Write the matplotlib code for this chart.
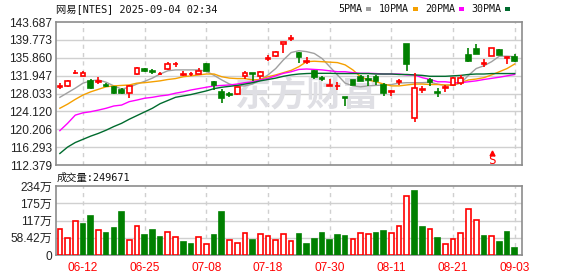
import matplotlib
matplotlib.use("Agg")
import matplotlib.pyplot as plt
import matplotlib.patches as mpatches
import numpy as np
import pandas as pd

RED = "#ff0000"
GREEN = "#008000"
GRID = "#d0d0d0"
FRAME = "#8c8c8c"

# --- data ------------------------------------------------------------------
holidays = ["2025-06-19", "2025-07-04", "2025-09-01"]
dates = pd.bdate_range("2025-06-09", "2025-09-03", freq="C", holidays=holidays)
tickDates = ["06-12", "06-25", "07-08", "07-18", "07-30", "08-11", "08-21", "09-03"]

opens = [129.5, 129.7, 132.5, 131.9, 130.8, 130.5, 130.0, 129.5, 128.9, 128.1,
         132.2, 133.5, 133.0, 132.2, 133.5, 134.45, 132.1, 132.2, 132.3, 134.5,
         130.6, 128.4, 127.9, 127.9, 131.9, 132.5, 131.9, 135.6, 136.2, 138.9,
         139.9, 136.8, 135.0, 133.0, 131.5, 129.7, 129.6, 127.3, 131.0, 131.6,
         131.2, 131.7, 129.9, 128.3, 130.5, 138.9, 122.6, 128.8, 130.9, 128.3,
         129.3, 129.9, 130.4, 136.5, 137.8, 134.6, 136.3, 137.6, 135.9, 136.0]
highs = [130.3, 130.9, 133.2, 133.0, 131.1, 131.6, 130.3, 129.6, 129.2, 129.8,
         133.8, 133.6, 133.5, 132.7, 134.9, 134.9, 132.9, 132.8, 133.6, 134.8,
         130.8, 129.0, 128.4, 129.5, 133.0, 132.6, 133.0, 136.5, 137.4, 139.4,
         140.8, 137.2, 136.0, 133.2, 131.9, 131.1, 130.5, 127.3, 131.0, 132.0,
         132.1, 132.0, 130.3, 128.9, 131.1, 138.9, 132.45, 129.7, 131.4, 129.2,
         129.9, 131.6, 132.1, 137.9, 138.9, 135.5, 138.1, 137.7, 136.1, 136.7]
lows = [129.1, 129.4, 132.2, 131.8, 129.1, 130.1, 129.4, 128.0, 128.0, 127.0,
        132.0, 132.7, 132.3, 132.1, 133.2, 133.9, 131.9, 131.8, 132.2, 132.9,
        128.9, 126.0, 127.3, 127.8, 131.1, 130.7, 131.3, 135.2, 136.1, 136.8,
        139.5, 134.8, 134.6, 131.1, 130.7, 129.7, 128.9, 125.4, 129.9, 130.7,
        129.7, 129.8, 127.5, 127.5, 129.8, 133.0, 121.9, 128.2, 129.7, 127.3,
        128.4, 129.7, 129.9, 134.9, 136.7, 133.8, 136.3, 136.4, 134.5, 135.0]
closes = [129.7, 130.8, 132.6, 132.5, 129.2, 130.7, 129.7, 128.2, 128.15, 129.7,
          133.6, 132.9, 132.8, 132.4, 134.5, 134.55, 132.3, 132.25, 132.9, 133.0,
          130.0, 127.0, 127.8, 129.4, 132.6, 132.3, 132.7, 135.8, 137.2, 139.2,
          140.1, 136.1, 135.2, 131.6, 131.2, 129.8, 129.7, 127.1, 130.0, 130.8,
          131.0, 130.7, 128.2, 128.5, 130.7, 134.6, 129.2, 129.0, 130.6, 128.1,
          129.45, 131.35, 131.4, 135.1, 136.7, 134.8, 137.9, 136.5, 136.0, 135.2]

ma5 = [127.2, 128.2, 129.2, 130.3, 130.8, 131.0, 130.5, 129.7, 129.0, 129.4,
       130.1, 130.7, 131.4, 132.3, 133.0, 133.2, 133.2, 133.2, 133.2, 132.9,
       132.0, 131.0, 130.1, 129.7, 129.7, 130.1, 131.0, 132.1, 133.5, 135.4,
       137.0, 137.4, 137.2, 136.8, 135.7, 133.9, 132.1, 130.3, 129.7, 129.5,
       129.7, 129.8, 129.9, 130.0, 130.3, 130.4, 130.4, 130.4, 130.5, 130.1,
       129.8, 129.9, 130.3, 132.0, 133.5, 134.1, 135.0, 136.2, 136.2, 136.1]
ma10 = [124.8, 125.7, 126.75, 127.7, 128.4, 128.95, 129.5, 129.7, 129.8, 129.9,
        130.3, 130.4, 130.6, 130.8, 131.1, 131.3, 131.7, 131.9, 132.1, 132.3,
        132.3, 131.7, 131.4, 131.3, 131.3, 131.0, 131.1, 131.7, 132.1, 132.6,
        133.1, 133.9, 135.0, 135.1, 135.0, 134.9, 134.8, 134.3, 133.2, 131.7,
        131.0, 130.6, 130.1, 129.7, 129.7, 129.9, 130.1, 130.1, 130.0, 130.0,
        129.9, 129.9, 130.4, 131.0, 131.2, 131.5, 132.1, 132.8, 133.5, 134.5]
ma20 = [119.9, 121.5, 123.3, 123.8, 124.05, 124.4, 124.8, 125.3, 125.5, 126.25,
        126.6, 127.0, 127.2, 127.5, 127.7, 128.1, 128.4, 128.8, 129.1, 129.4,
        129.7, 129.8, 129.9, 130.1, 130.4, 130.6, 131.0, 131.35, 131.9, 132.45,
        132.8, 133.3, 133.4, 133.3, 133.2, 133.0, 132.8, 132.8, 132.6, 132.45,
        132.45, 132.4, 132.3, 132.3, 132.3, 132.1, 132.1, 131.5, 131.1, 130.6,
        130.6, 130.4, 130.4, 130.6, 130.8, 131.1, 131.35, 131.6, 131.9, 132.2]
ma30 = [114.9, 116.3, 117.3, 118.0, 118.7, 119.3, 120.0, 120.8, 121.5, 122.4,
        123.2, 124.0, 124.8, 125.8, 126.5, 127.2, 127.5, 127.8, 128.2, 128.6,
        129.1, 129.4, 129.6, 129.8, 130.1, 130.4, 130.8, 131.1, 131.4, 131.8,
        132.1, 132.3, 132.4, 132.45, 132.45, 132.45, 132.4, 132.4, 132.4, 132.4,
        132.4, 132.3, 132.3, 132.3, 132.2, 132.2, 132.1, 132.0, 131.8, 131.8,
        131.8, 131.9, 132.0, 132.2, 132.3, 132.3, 132.4, 132.4, 132.4, 132.4]

# volume in 万 shares, and whether the bar is drawn as an up (red) bar
volumes = [88.8, 58.4, 115.7, 105.6, 132.6, 85.4, 75.3, 92.1, 146.1, 51.7,
           97.7, 68.5, 85.4, 61.8, 77.5, 60.7, 44.9, 38.2, 60.7, 37.1,
           68.5, 146.1, 51.7, 40.4, 74.2, 51.7, 70.8, 65.2, 51.7, 70.8,
           47.2, 71.9, 38.2, 55.1, 75.3, 51.7, 68.5, 65.2, 53.9, 74.2,
           70.8, 75.3, 82.0, 74.2, 98.9, 198.9, 216.8, 95.5, 87.6, 58.4,
           37.1, 55.1, 74.2, 155.0, 118.0, 65.2, 64.0, 44.9, 78.6, 24.97]
volUp = [1, 1, 1, 0, 0, 1, 0, 0, 0, 1,
         1, 0, 0, 0, 1, 1, 0, 0, 1, 1,
         0, 0, 1, 1, 1, 0, 1, 1, 1, 1,
         1, 0, 0, 0, 0, 0, 0, 0, 1, 1,
         1, 0, 0, 1, 1, 1, 0, 0, 1, 0,
         1, 1, 1, 1, 1, 0, 1, 0, 0, 0]

priceLabels = ["112.379", "116.293", "120.206", "124.120", "128.033",
               "131.947", "135.860", "139.773", "143.687"]
volTicks = [0, 58.42, 116.84, 175.26, 233.68]
volLabels = ["0", "58.42万", "117万", "175万", "234万"]
maNames = ["5PMA", "10PMA", "20PMA", "30PMA"]
maColors = ["#a0a0a0", "#f5a000", "#ff00ff", "#006b2e"]

plt.rcParams["font.family"] = ["DejaVu Sans", "Noto Sans CJK SC"]
TICKFONT = ["Liberation Sans", "Noto Sans CJK SC"]
MONOFONT = ["DejaVu Sans Mono", "Noto Sans CJK SC"]

W, H = 578, 276


def fx(px):
    return px / W


def fy(py):
    return 1 - py / H


def styleAxes(ax):
    for s in ax.spines.values():
        s.set_color(FRAME)
        s.set_linewidth(1.2)
    ax.tick_params(length=0, labelsize=8.6, colors="#222222")
    for lab in ax.get_yticklabels():
        lab.set_family(TICKFONT)
    ax.set_xlim(-0.5, len(dates) - 0.06)
    ax.set_xticks(tickPos)
    for t in tickPos:
        ax.axvline(t, color=GRID, lw=1, ls=(0, (3, 3)), zorder=0)


labels = list(dates.strftime("%m-%d"))
tickPos = [labels.index(d) for d in tickDates]
x = np.arange(len(dates))
o, h, l, c = map(np.array, (opens, highs, lows, closes))
up = c >= o
colors = np.where(up, RED, GREEN)

fig = plt.figure(figsize=(W / 100, H / 100), dpi=100)

# --- price panel ---
ax = fig.add_axes([fx(56), fy(165), fx(522) - fx(56), fy(22) - fy(165)])
ax.set_ylim(112.379, 143.687)
ax.set_yticks([float(s) for s in priceLabels])
ax.set_yticklabels(priceLabels)
for v in [float(s) for s in priceLabels][1:-1]:
    ax.axhline(v, color=GRID, lw=1, zorder=0)
styleAxes(ax)
ax.set_xticklabels([])
ax.tick_params(axis="y", pad=3)

# watermark
ax.text(0.539, 0.49, "东方财富", transform=ax.transAxes, fontsize=26,
        fontweight="bold", color="#dfdfe4", ha="center", va="center",
        family=["Noto Sans CJK SC"], zorder=0)

for ma, col in zip([ma5, ma10, ma20, ma30], maColors):
    ax.plot(x, ma, color=col, lw=1, zorder=2)

ax.vlines(x, l, h, colors=colors, lw=1.2, zorder=3)
bodyH = np.maximum(np.abs(c - o), 0.08)
ax.bar(x, bodyH, bottom=np.minimum(o, c), width=0.6,
       facecolor=np.where(up, "white", GREEN), edgecolor=colors,
       linewidth=1.2, zorder=4)

# event marker near the bottom of the price panel
sIdx = labels.index("08-28")
ax.plot([sIdx], [115.0], marker="^", color=RED, markersize=3.5, zorder=5)
ax.text(sIdx, 112.55, "S", color=RED, ha="center", va="baseline",
        fontsize=9, family=MONOFONT, zorder=5)

# --- volume panel ---
vax = fig.add_axes([fx(56), fy(255), fx(522) - fx(56), fy(186) - fy(255)])
vax.set_ylim(0, 233.68)
vax.set_yticks(volTicks)
vax.set_yticklabels(volLabels)
for v in volTicks[1:-1]:
    vax.axhline(v, color=GRID, lw=1, zorder=0)
styleAxes(vax)
vax.set_xticklabels(tickDates)
vax.tick_params(axis="x", colors=RED, pad=5)
vax.tick_params(axis="y", pad=3)
for lab in vax.get_xticklabels():
    lab.set_family(TICKFONT)
vup = np.array(volUp, dtype=bool)
vax.bar(x, volumes, width=0.6, facecolor=np.where(vup, "white", GREEN),
        edgecolor=np.where(vup, RED, GREEN), linewidth=1.2, zorder=3)

# --- header texts ---
fig.text(fx(56), fy(9), "网易[NTES] 2025-09-04 02:34", fontsize=7.4,
         family=MONOFONT, va="center", ha="left", color="#111111")
fig.text(fx(57), fy(178), "成交量:249671", fontsize=7.4,
         family=MONOFONT, va="center", ha="left", color="#111111")

legendRight = [362, 409, 455, 501]
for name, col, px in zip(maNames, maColors, legendRight):
    fig.text(fx(px), fy(9), name, fontsize=7.2, family=MONOFONT,
             va="center", ha="right", color="#111111")
    fig.patches.append(mpatches.Rectangle(
        (fx(px + 4), fy(10.5)), 5 / W, 3 / H, transform=fig.transFigure,
        facecolor=col, edgecolor="none"))

fig.savefig("out.png", dpi=100)
plt.close(fig)
